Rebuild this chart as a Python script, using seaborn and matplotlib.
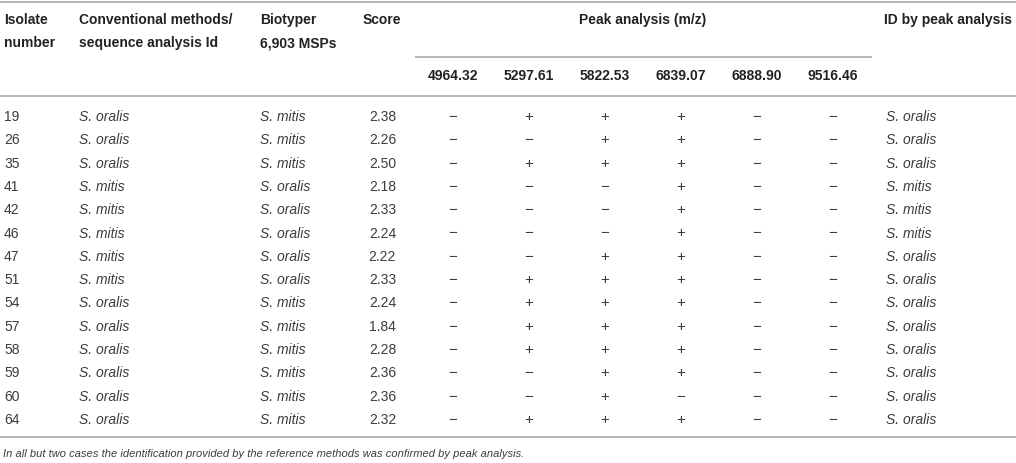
import numpy as np
import pandas as pd
import seaborn as sns
import matplotlib.pyplot as plt
from matplotlib.colors import ListedColormap

# Table values
isolates = [19, 26, 35, 41, 42, 46, 47, 51, 54, 57, 58, 59, 60, 64]
conventional = ["S. oralis", "S. oralis", "S. oralis", "S. mitis", "S. mitis", "S. mitis", "S. mitis",
                "S. mitis", "S. oralis", "S. oralis", "S. oralis", "S. oralis", "S. oralis", "S. oralis"]
biotyper = ["S. mitis", "S. mitis", "S. mitis", "S. oralis", "S. oralis", "S. oralis", "S. oralis",
            "S. oralis", "S. mitis", "S. mitis", "S. mitis", "S. mitis", "S. mitis", "S. mitis"]
scores = [2.38, 2.26, 2.50, 2.18, 2.33, 2.24, 2.22, 2.33, 2.24, 1.84, 2.28, 2.36, 2.36, 2.32]
peak_labels = ["4964.32", "5297.61", "5822.53", "6839.07", "6888.90", "9516.46"]
peak_4964 = [0, 0, 0, 0, 0, 0, 0, 0, 0, 0, 0, 0, 0, 0]
peak_5297 = [1, 0, 1, 0, 0, 0, 0, 1, 1, 1, 1, 0, 0, 1]
peak_5822 = [1, 1, 1, 0, 0, 0, 1, 1, 1, 1, 1, 1, 1, 1]
peak_6839 = [1, 1, 1, 1, 1, 1, 1, 1, 1, 1, 1, 1, 0, 1]
peak_6888 = [0, 0, 0, 0, 0, 0, 0, 0, 0, 0, 0, 0, 0, 0]
peak_9516 = [0, 0, 0, 0, 0, 0, 0, 0, 0, 0, 0, 0, 0, 0]
id_by_peak = ["S. oralis", "S. oralis", "S. oralis", "S. mitis", "S. mitis", "S. mitis", "S. oralis",
              "S. oralis", "S. oralis", "S. oralis", "S. oralis", "S. oralis", "S. oralis", "S. oralis"]
footnote = "In all but two cases the identification provided by the reference methods was confirmed by peak analysis."

peaks = pd.DataFrame(
    np.array([peak_4964, peak_5297, peak_5822, peak_6839, peak_6888, peak_9516]).T,
    index=isolates, columns=peak_labels)
signs = peaks.replace({1: "+", 0: "\u2212"})

sns.set_theme(style="white")
plt.rcParams['font.family'] = ['Liberation Sans', 'DejaVu Sans']

W, H = 1016, 463
fig = plt.figure(figsize=(W / 100, H / 100), dpi=100)
ax = fig.add_axes([0, 0, 1, 1])
ax.set_xlim(0, W)
ax.set_ylim(H, 0)
ax.axis('off')

head_c = "#222222"
body_c = "#3c3c3c"
line_c = "#b4b4b4"
fs = 10

# Rules
ax.hlines([2, 96, 437], 0, W, color=line_c, lw=1.4)
ax.hlines(57, 415, 872, color=line_c, lw=1.4)

# Header
hk = dict(fontsize=fs, fontweight='bold', color=head_c, va='center')
ax.text(4, 20, "Isolate", **hk)
ax.text(4, 43, "number", **hk)
ax.text(79, 20, "Conventional methods/", **hk)
ax.text(79, 43, "sequence analysis Id", **hk)
ax.text(260, 20, "Biotyper", **hk)
ax.text(260, 43, "6,903 MSPs", **hk)
ax.text(363, 20, "Score", **hk)
ax.text(643, 20, "Peak analysis (m/z)", ha='center', **hk)
ax.text(884, 20, "ID by peak analysis", **hk)

# Body rows
row0, dy = 117, 23.3
bk = dict(fontsize=fs, color=body_c, va='center')
for i, iso in enumerate(isolates):
    y = row0 + i * dy
    ax.text(4, y, str(iso), **bk)
    ax.text(79, y, conventional[i], style='italic', **bk)
    ax.text(260, y, biotyper[i], style='italic', **bk)
    ax.text(396, y, f"{scores[i]:.2f}", ha='right', **bk)
    ax.text(886, y, id_by_peak[i], style='italic', **bk)

ax.text(3, 454, footnote, fontsize=8.05, style='italic', color=body_c, va='center')

# Peak grid drawn as a heatmap with +/- annotations
top = row0 - dy / 2
hax = fig.add_axes([415 / W, 1 - (top + len(isolates) * dy) / H, 456 / W, len(isolates) * dy / H])
sns.heatmap(peaks, ax=hax, cmap=ListedColormap(["white"]), cbar=False,
            annot=signs.values, fmt="", annot_kws=dict(fontsize=fs + 1, color=body_c))
hax.set_facecolor('none')
hax.axis('off')

# Peak column labels
for j, lab in enumerate(peak_labels):
    ax.text(415 + 76 * (j + 0.5), 76, lab, ha='center', **hk)

fig.savefig("out.png", dpi=100)
